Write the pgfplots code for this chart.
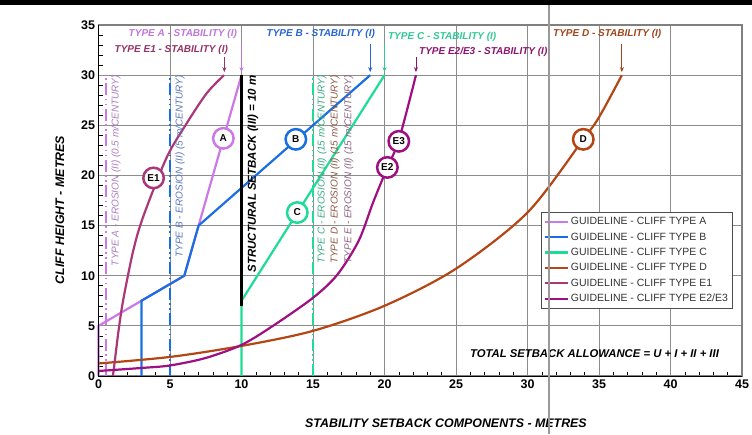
\documentclass[border=0pt]{standalone}
\usepackage{fontspec}
\setmainfont{Liberation Sans}
\usepackage{pgfplots}
\pgfplotsset{compat=1.18}
\usetikzlibrary{arrows.meta,calc}
\definecolor{colA}{RGB}{204,120,230}
\definecolor{colB}{RGB}{25,110,225}
\definecolor{colC}{RGB}{30,220,150}
\definecolor{colD}{RGB}{180,70,20}
\definecolor{colE1}{RGB}{170,55,120}
\definecolor{colE}{RGB}{160,15,130}
\definecolor{txA}{RGB}{190,120,220}
\definecolor{txB}{RGB}{40,100,210}
\definecolor{txC}{RGB}{50,200,150}
\definecolor{txD}{RGB}{160,70,30}
\definecolor{txE1}{RGB}{150,50,100}
\definecolor{txE}{RGB}{140,20,110}
\definecolor{erA}{RGB}{170,125,195}
\definecolor{erB}{RGB}{90,120,190}
\definecolor{erC}{RGB}{60,170,130}
\definecolor{erD}{RGB}{140,90,70}
\definecolor{erE}{RGB}{140,100,130}
\tikzset{
  lbl/.style={circle, draw=#1, line width=2.5pt, fill=white, minimum size=20.5pt, inner sep=0pt, font=\bfseries\fontsize{10}{12}\selectfont},
  stab/.style={font=\bfseries\itshape\fontsize{10}{12}\selectfont, inner sep=0pt},
  eros/.style={rotate=90, anchor=east, inner sep=0pt, font=\itshape\fontsize{10}{12}\selectfont},
  dd/.style={line width=2pt, dash pattern=on 12pt off 3.5pt on 1.5pt off 3.5pt on 1.5pt off 3.5pt},
  arr/.style={-{Stealth[length=5pt,width=4pt]}, line width=0.9pt}
}
\begin{document}
\begin{tikzpicture}
\begin{axis}[
  scale only axis, width=643.5pt, height=351pt,
  xmin=0, xmax=45, ymin=0, ymax=35,
  xtick={0,5,...,45}, ytick={0,5,...,35},
  minor x tick num=4, minor y tick num=4,
  tick pos=left,
  tick align=inside, major tick length=0pt, minor tick length=4pt,
  every tick/.style={black, line width=0.6pt},
  grid=major, major grid style={draw=black!45, line width=0.9pt},
  axis line style={black!50, line width=1.2pt},
  ticklabel style={font=\bfseries\fontsize{12.5}{14}\selectfont},
  /pgf/number format/assume math mode=true,
  clip=false,
  xlabel={STABILITY SETBACK COMPONENTS - METRES},
  ylabel={CLIFF HEIGHT - METRES},
  x label style={at={(axis description cs:0.54,-0.134)}, anchor=center, font=\bfseries\itshape\fontsize{12.4}{14}\selectfont},
  y label style={at={(axis description cs:-0.06,0.473)}, anchor=center, font=\bfseries\itshape\fontsize{12.4}{14}\selectfont},
  legend style={at={(0.985,0.467)}, anchor=north east, draw=black!70, line width=0.8pt, fill=white,
    font=\fontsize{10.5}{12}\selectfont, text=black!80, inner xsep=2pt, inner ysep=3pt, row sep=2.5pt, cells={anchor=west}},
  legend image code/.code={\draw[#1] (0pt,0pt) -- (23pt,0pt);},
]
\coordinate (ll) at (rel axis cs:0,0);
\coordinate (ur) at (rel axis cs:1,1);
% erosion lines
\addplot[colA, dd, forget plot] coordinates {(0.5,0) (0.5,30)};
\addplot[colB, dd, forget plot] coordinates {(5,0) (5,30)};
\addplot[colC, dd, forget plot] coordinates {(15,0) (15,30)};
% guideline curves
\addplot[colA, line width=2.2pt] coordinates {(0,0) (0,5) (3,7.5) (6,10) (7,15) (10,30)};
\addlegendentry{GUIDELINE - CLIFF TYPE A}
\addplot[colB, line width=2.2pt] coordinates {(3,0) (3,7.5) (6,10) (7,15) (19,30)};
\addlegendentry{GUIDELINE - CLIFF TYPE B}
\addplot[colC, line width=2.2pt] coordinates {(10,0) (10,7.5) (20,30)};
\addlegendentry{GUIDELINE - CLIFF TYPE C}
\addplot[colD, line width=2.2pt, smooth] coordinates {(0,1.25) (5,1.9) (10,3.0) (15,4.5) (20,7.0) (25,10.7) (30,16.3) (33.9,23.6) (35,25.8) (36.6,30)};
\addlegendentry{GUIDELINE - CLIFF TYPE D}
\addplot[colE1, line width=2.2pt, smooth] coordinates {(1.0,0) (1.05,0.45) (1.15,1.6) (1.4,4.5) (1.73,7.6) (2.43,12.5) (3.13,15.9) (4.77,21.8) (6.17,25.2) (7.57,28.2) (8.78,30)};
\addlegendentry{GUIDELINE - CLIFF TYPE E1}
\addplot[colE, line width=2.2pt, smooth] coordinates {(0,0.5) (3,0.8) (5,1.05) (7.5,1.8) (10,3.1) (12.2,5) (15,7.8) (16.7,10.1) (18.2,13.5) (19.2,17.3) (20.2,20.8) (21.0,23.5) (22.2,30)};
\addlegendentry{GUIDELINE - CLIFF TYPE E2/E3}
% structural setback
\addplot[black, line width=3pt, forget plot] coordinates {(10,7) (10,30)};
% left and bottom axis lines in black
\draw[black, line width=1pt] (rel axis cs:0,1) -- (rel axis cs:0,0) -- (rel axis cs:1,0);
% erosion texts
\node[eros, erA] at (axis cs:1.22,30) {TYPE A - EROSION (II) (0.5 m/CENTURY)};
\node[eros, erB] at (axis cs:5.7,30) {TYPE B - EROSION (II) (5 m/CENTURY)};
\node[eros, erC] at (axis cs:15.63,30) {TYPE C - EROSION (II) (15 m/CENTURY)};
\node[eros, erD] at (axis cs:16.54,30) {TYPE D - EROSION (II) (15 m/CENTURY)};
\node[eros, erE] at (axis cs:17.5,30) {TYPE E - EROSION (II) (15 m/CENTURY)};
\node[rotate=90, anchor=east, inner sep=0pt, font=\bfseries\itshape\fontsize{11.5}{13}\selectfont] at (axis cs:10.8,30) {STRUCTURAL SETBACK (III) = 10 m};
% stability labels and arrows
\node[stab, txA, anchor=east] at (axis cs:9.69,34.16) {TYPE A - STABILITY (I)};
\draw[arr, txA] (axis cs:10,33.1) -- (axis cs:10,30.3);
\node[stab, txE1, anchor=east] at (axis cs:9.06,32.5) {TYPE E1 - STABILITY (I)};
\draw[arr, txE1] (axis cs:8.8,31.8) -- (axis cs:8.8,30.3);
\node[stab, txB, anchor=east] at (axis cs:19.34,34.16) {TYPE B - STABILITY (I)};
\draw[arr, txB] (axis cs:19,33.1) -- (axis cs:19,30.3);
\node[stab, txC, anchor=west] at (axis cs:20.24,33.8) {TYPE C - STABILITY (I)};
\draw[arr, txC] (axis cs:20,33.1) -- (axis cs:20,30.3);
\node[stab, txE, anchor=west] at (axis cs:22.41,32.3) {TYPE E2/E3 - STABILITY (I)};
\draw[arr, txE] (axis cs:22.2,31.8) -- (axis cs:22.2,30.3);
\node[stab, txD, anchor=west] at (axis cs:31.78,34.16) {TYPE D - STABILITY (I)};
\draw[arr, txD] (axis cs:36.6,33.1) -- (axis cs:36.6,30.3);
% circle labels
\node[lbl=colA] at (axis cs:8.73,23.7) {A};
\node[lbl=colB] at (axis cs:13.8,23.6) {B};
\node[lbl=colC] at (axis cs:13.9,16.3) {C};
\node[lbl=colD] at (axis cs:33.9,23.6) {D};
\node[lbl=colE1] at (axis cs:3.85,19.75) {E1};
\node[lbl=colE] at (axis cs:20.2,20.8) {E2};
\node[lbl=colE] at (axis cs:21.0,23.4) {E3};
% total
\node[anchor=east, inner sep=0pt, font=\bfseries\itshape\fontsize{11.3}{13}\selectfont] at (axis cs:43.4,2.2) {TOTAL SETBACK ALLOWANCE = U + I + II + III};
\end{axis}
\coordinate (BL) at ($(ll)+(-98.5pt,-58pt)$);
\coordinate (TR) at ($(ur)+(10pt,25pt)$);
\fill[black] ($(BL|-TR)+(0,-5pt)$) rectangle (TR);
\draw[black!40, line width=1.2pt] ($(BL)+(549pt,0)$) -- ($(BL|-TR)+(549pt,-5pt)$);
\pgfresetboundingbox
\useasboundingbox (BL) rectangle (TR);
\end{tikzpicture}
\end{document}
